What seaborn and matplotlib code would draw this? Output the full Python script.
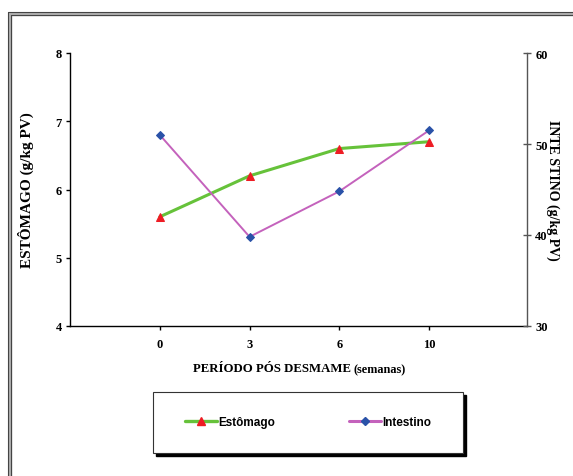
import numpy as np
import pandas as pd
import seaborn as sns
import matplotlib.pyplot as plt
from matplotlib.lines import Line2D
from matplotlib.patches import Rectangle

# ---- data ----
semanas = ["0", "3", "6", "10"]
estomago = [5.6, 6.2, 6.6, 6.7]
intestino = [51.0, 39.8, 44.8, 51.5]

sns.set_theme(style="white")
plt.rcParams['font.family'] = ['Liberation Serif', 'DejaVu Serif']
plt.rcParams['font.weight'] = 'bold'
for k in ['text.color', 'axes.labelcolor', 'xtick.color', 'ytick.color']:
    plt.rcParams[k] = 'black'

W, H = 573, 477
fig = plt.figure(figsize=(W / 100, H / 100), dpi=100)


def fx(x):
    return x / W


def fy(y):
    return 1 - y / H


ax = fig.add_axes([fx(70), fy(327), fx(527) - fx(70), fy(54) - fy(327)])
ax2 = ax.twinx()

df = pd.DataFrame({"pos": np.arange(len(semanas)), "semana": semanas,
                   "Estômago": estomago, "Intestino": intestino})

green = "#66c23a"
red = "#ee1c24"
magenta = "#c462bc"
blue = "#2a52a8"

sns.lineplot(data=df, x="pos", y="Estômago", ax=ax, color=green, linewidth=2.2,
             marker="^", markersize=6, markerfacecolor=red, markeredgecolor=red,
             legend=False)
sns.lineplot(data=df, x="pos", y="Intestino", ax=ax2, color=magenta, linewidth=1.4,
             marker="D", markersize=4.2, markerfacecolor=blue, markeredgecolor=blue,
             legend=False)

ax.set_xlim(-1.0, 4.09)
ax.set_ylim(4, 8)
ax.set_yticks([4, 5, 6, 7, 8])
ax2.set_ylim(30, 60)
ax2.set_yticks([30, 40, 50, 60])
ax.set_xticks(df["pos"])
ax.set_xticklabels(semanas)

for s in ['top', 'right']:
    ax.spines[s].set_visible(False)
for s in ['left', 'bottom']:
    ax.spines[s].set_color('black')
    ax.spines[s].set_linewidth(1)
for s in ['left', 'top', 'bottom']:
    ax2.spines[s].set_visible(False)
ax2.spines['right'].set_color('#555555')
ax2.spines['right'].set_linewidth(1)

ax.tick_params(axis='y', left=True, direction='out', length=3, width=1,
               color='black', pad=3, labelsize=9)
ax.tick_params(axis='x', bottom=True, direction='out', length=3, width=1,
               color='black', pad=6, labelsize=9)
ax2.tick_params(axis='y', right=True, direction='inout', length=6, width=1,
                color='#555555', pad=3, labelsize=9)

ax.set_xlabel("")
ax.set_ylabel("ESTÔMAGO (g/kg PV)", fontsize=11, fontweight='bold')
ax.yaxis.set_label_coords((34 - 70) / 457, 0.5)
ax2.set_ylabel("INTE STINO (g/kg PV)", fontsize=10, fontweight='bold',
               rotation=270, va='center')
ax2.yaxis.set_label_coords((553 - 70) / 457, 0.5)

# x label in two parts
t1 = fig.text(fx(193), fy(369), "PERÍODO PÓS DESMAME", fontsize=9.2,
              fontweight='bold', ha='left', va='center')
fig.canvas.draw()
bb = t1.get_window_extent()
fig.text(bb.x1 / W + fx(3), fy(370), "(semanas)", fontsize=8.8,
         fontweight='bold', ha='left', va='center')

# legend box with shadow
lx0, ly0, lx1, ly1 = 153, 393, 463, 454
fig.patches.append(Rectangle((fx(lx0 + 3), fy(ly1 + 3)), fx(lx1 - lx0), fy(ly0) - fy(ly1),
                             transform=fig.transFigure, facecolor='black',
                             edgecolor='black', zorder=1))
fig.patches.append(Rectangle((fx(lx0), fy(ly1)), fx(lx1 - lx0), fy(ly0) - fy(ly1),
                             transform=fig.transFigure, facecolor='white',
                             edgecolor='#333333', linewidth=0.8, zorder=2))
handles = [Line2D([], [], color=green, linewidth=2.4, marker="^", markersize=6,
                  markerfacecolor=red, markeredgecolor=red),
           Line2D([], [], color=magenta, linewidth=2.2, marker="D", markersize=4.2,
                  markerfacecolor=blue, markeredgecolor=blue)]
leg = fig.legend(handles, ["Estômago", "Intestino"], ncol=2, frameon=False,
                 loc='center', bbox_to_anchor=(fx(308), fy(423)),
                 handlelength=2.7, handletextpad=0.1, columnspacing=6.3,
                 prop={'family': 'Liberation Sans', 'weight': 'bold', 'size': 8.5})
leg.set_zorder(3)

# outer frame
fig.lines.append(Line2D([fx(9.5), fx(9.5)], [fy(14.5), 0], transform=fig.transFigure,
                        color='#b0b0b0', linewidth=2.5))
fig.lines.append(Line2D([fx(9.5), 1], [fy(14.5), fy(14.5)], transform=fig.transFigure,
                        color='#b0b0b0', linewidth=2.5))
for off, c in [(8, '#444444'), (11, '#444444')]:
    fig.lines.append(Line2D([fx(off), fx(off)], [fy(off + 5), 0], transform=fig.transFigure,
                            color=c, linewidth=0.8))
    fig.lines.append(Line2D([fx(off), 1], [fy(off + 5), fy(off + 5)], transform=fig.transFigure,
                            color=c, linewidth=0.8))

fig.savefig("out.png", dpi=100)
